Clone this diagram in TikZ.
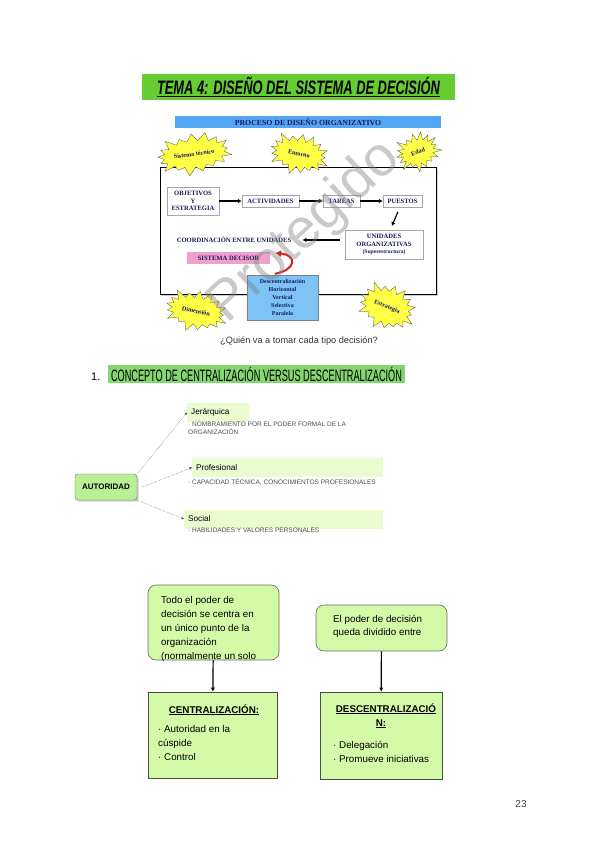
\documentclass[tikz,border=0pt]{standalone}
\usepackage{fontspec}
\setmainfont{Liberation Sans}
\newfontfamily\figfont{Liberation Serif}
\newfontfamily\condfont[FakeStretch=0.66]{Liberation Sans}
\newfontfamily\headfont[FakeStretch=0.555]{Liberation Sans}
\usetikzlibrary{shapes.symbols,shadows,calc,arrows.meta}

\definecolor{titlegreen}{RGB}{102,204,51}
\definecolor{headgreen}{RGB}{132,214,112}
\definecolor{bandblue}{RGB}{85,165,245}
\definecolor{boxblue}{RGB}{125,195,245}
\definecolor{pinkbox}{RGB}{240,160,205}
\definecolor{burstyellow}{RGB}{255,255,70}
\definecolor{navytext}{RGB}{25,25,90}
\definecolor{autgreen}{RGB}{185,240,150}
\definecolor{palegreen}{RGB}{234,251,208}
\definecolor{boxgreen}{RGB}{212,250,168}
\definecolor{arrowred}{RGB}{215,35,30}

\tikzset{
  burst/.style={starburst, draw=black!70, line width=0.3pt, fill=burstyellow,
    starburst points=17, starburst point height=10pt, inner xsep=1pt, inner ysep=7pt,
    font=\figfont\bfseries\fontsize{6.2}{6.2}\selectfont, text=navytext},
  flowbox/.style={draw=black!35, line width=0.4pt, inner sep=1pt, align=center,
    font=\figfont\bfseries\fontsize{6.6}{7.8}\selectfont, text=navytext},
  flowarrow/.style={line width=1.2pt, -{Latex[length=4pt,width=4.5pt]}},
  catbox/.style={fill=palegreen, anchor=west, minimum height=19pt,
    inner xsep=4pt, align=left, font=\fontsize{8.2}{9}\selectfont},
  catnote/.style={anchor=north west, inner sep=0pt, align=left,
    font=\fontsize{6.5}{7.6}\selectfont, text=black!70},
  dotarrow/.style={densely dotted, black!75, -{Stealth[length=3pt,width=2.5pt]}},
  bodytext/.style={anchor=base west, inner sep=0pt, font=\fontsize{9.8}{11}\selectfont},
  resultbox/.style={draw=black!70, line width=0.6pt, fill=boxgreen,
    drop shadow={shadow xshift=1.2pt, shadow yshift=-1.2pt, opacity=0.35}},
}

\begin{document}
\begin{tikzpicture}[x=1pt,y=-1pt]
\useasboundingbox (0,0) rectangle (599,848);

\node[fill=titlegreen, minimum width=313pt, minimum height=26pt, inner sep=0pt,
  font=\condfont\bfseries\itshape\fontsize{19.5}{20}\selectfont] (title) at (298.5,87)
  {\underline{TEMA 4: DISEÑO DEL SISTEMA DE DECISIÓN}};

\node[fill=bandblue, minimum width=266pt, minimum height=12pt, inner sep=0pt,
  font=\figfont\bfseries\fontsize{7.8}{8}\selectfont, text=navytext] (band) at (308,122)
  {PROCESO DE DISEÑO ORGANIZATIVO};
\draw[line width=0.8pt, fill=white, drop shadow={shadow xshift=1.5pt, shadow yshift=-1.5pt, opacity=0.4}]
  (160,167) rectangle (436,294);

\node[flowbox, minimum width=52pt, minimum height=28pt] (obj) at (193,201) {OBJETIVOS\\Y\\ESTRATEGIA};
\node[flowbox, minimum width=57pt, minimum height=12pt] (act) at (270.5,201) {ACTIVIDADES};
\node[flowbox, minimum width=37pt, minimum height=12pt] (tar) at (341.5,201) {TAREAS};
\node[flowbox, minimum width=39pt, minimum height=12pt] (pue) at (402.5,201) {PUESTOS};
\node[flowbox, minimum width=78pt, minimum height=29pt] (uni) at (384,244.5)
  {UNIDADES\\ORGANIZATIVAS\\{\fontsize{5.6}{6}\selectfont(Superestructura)}};
\node[flowbox, draw=none] (coord) at (234,240) {COORDINACIÓN ENTRE UNIDADES};
\node[flowbox, draw=none, fill=pinkbox, minimum width=83pt, minimum height=12pt] (pink) at (228.5,258)
  {SISTEMA DECISOR};
\node[flowbox, draw=black!50, fill=boxblue, minimum width=71pt, minimum height=45pt,
  font=\figfont\bfseries\fontsize{6}{8}\selectfont] (bluebox) at (282.5,297.5)
  {Descentralización\\Horizontal\\Vertical\\Selectiva\\Paralela};

\draw[flowarrow] (obj) -- (act);
\draw[flowarrow] (act) -- (tar);
\draw[flowarrow] (tar) -- (pue);
\draw[flowarrow, shorten <=5pt, shorten >=4pt] (pue) -- (uni);
\draw[flowarrow, shorten <=5pt, shorten >=10pt] (uni.west |- coord) -- (coord);
\draw[arrowred, line width=2pt, -{Latex[length=6pt,width=7pt]}]
  ($(bluebox.north west)+(28,-1)$) .. controls +(22,-4) and +(22,2) .. ($(pink.east)+(5,-5)$);

\node[burst, rotate=8] (btec) at (194,154) {Sistema técnico};
\node[burst, inner xsep=5pt, rotate=-12] (bent) at (299,154) {Entorno};
\node[burst, inner xsep=4pt, inner ysep=6pt, rotate=18] (beda) at (418,152) {Edad};
\node[burst, inner xsep=3pt, rotate=-12] (bdim) at (196,311) {Dimensión};
\node[burst, inner xsep=2pt, inner ysep=8pt, rotate=-22] (best) at (387,307) {Estrategia};

\node[rotate=43, text=gray, opacity=0.42, font=\fontsize{56}{56}\selectfont] (stamp) at (305,232) {Protegido};

\node[font=\fontsize{9.2}{10}\selectfont, text=black!80] (quien) at (299,341)
  {¿Quién va a tomar cada tipo decisión?};

\node[anchor=base west, inner sep=0pt, font=\fontsize{11}{12}\selectfont] (num) at (91,380) {1.};
\node[fill=headgreen, minimum width=297pt, minimum height=18pt, inner sep=0pt,
  font=\headfont\fontsize{16.5}{17}\selectfont] (head) at (256.5,374)
  {CONCEPTO DE CENTRALIZACIÓN VERSUS DESCENTRALIZACIÓN};

\node[draw=black!60, fill=autgreen, rounded corners=3pt, minimum width=62pt, minimum height=26pt,
  font=\bfseries\fontsize{8}{9}\selectfont,
  drop shadow={shadow xshift=1.5pt, shadow yshift=-1.5pt, opacity=0.4}] (aut) at (106,487) {AUTORIDAD};
\node[catbox, text width=54pt] (jer) at (187,412.5) {Jerárquica};
\node[catbox, text width=183pt] (pro) at (192,467.5) {Profesional};
\node[catbox, text width=191pt] (soc) at (184,519) {Social};
\node[catnote] (jern) at (188,422) {· NOMBRAMIENTO POR EL PODER FORMAL DE LA\\ORGANIZACIÓN};
\node[catnote] (pron) at (188,479) {· CAPACIDAD TÉCNICA, CONOCIMIENTOS PROFESIONALES};
\node[catnote] (socn) at (188,527.5) {· HABILIDADES Y VALORES PERSONALES};
\draw[dotarrow] (aut.north east) -- (jer.west);
\draw[dotarrow] ($(aut.east)+(5,0)$) -- (pro.west);
\draw[dotarrow] (aut.south east) -- (soc.west);

\node[draw=black!60, line width=0.6pt, fill=boxgreen, rounded corners=8pt,
  minimum width=131pt, minimum height=75pt] (cenq) at (213.5,622.5) {};
\node[draw=black!60, line width=0.6pt, fill=boxgreen, rounded corners=8pt,
  minimum width=131pt, minimum height=46pt] (desq) at (381.5,628) {};
\foreach \txt [count=\i] in {{Todo el poder de}, {decisión se centra en}, {un único punto de la},
    {organización}, {(normalmente un solo}}
  \node[bodytext] (cenq\i) at (161,{603+14*(\i-1)}) {\txt};
\foreach \txt [count=\i] in {{El poder de decisión}, {queda dividido entre}}
  \node[bodytext] (desq\i) at (333,{622+13.5*(\i-1)}) {\txt};

\node[resultbox, minimum width=129pt, minimum height=86pt] (cen) at (212.5,735) {};
\node[resultbox, minimum width=122pt, minimum height=87pt] (des) at (381,735.5) {};
\node[anchor=base, inner sep=0pt, font=\bfseries\fontsize{9.8}{11}\selectfont] (cent) at (214,713)
  {\underline{CENTRALIZACIÓN:}};
\node[anchor=base, inner sep=0pt, font=\bfseries\fontsize{9.8}{11}\selectfont] (dest1) at (386,712)
  {\underline{DESCENTRALIZACIÓ}};
\node[anchor=base, inner sep=0pt, font=\bfseries\fontsize{9.8}{11}\selectfont] (dest2) at (381,726)
  {\underline{N:}};
\foreach \txt [count=\i] in {{· Autoridad en la}, {cúspide}, {· Control}}
  \node[bodytext] (cenl\i) at (158,{732+14*(\i-1)}) {\txt};
\foreach \txt [count=\i] in {{· Delegación}, {· Promueve iniciativas}}
  \node[bodytext] (desl\i) at (333,{748+14*(\i-1)}) {\txt};

\draw[line width=1.2pt, -{Latex[length=4pt,width=4pt]}] (cenq) -- (cen);
\draw[line width=1.2pt, -{Latex[length=4pt,width=4pt]}] (desq) -- (des);

\node[anchor=base, inner sep=0pt, text=black!75, font=\fontsize{10}{12}\selectfont] (page) at (521,807) {23};
\end{tikzpicture}
\end{document}
